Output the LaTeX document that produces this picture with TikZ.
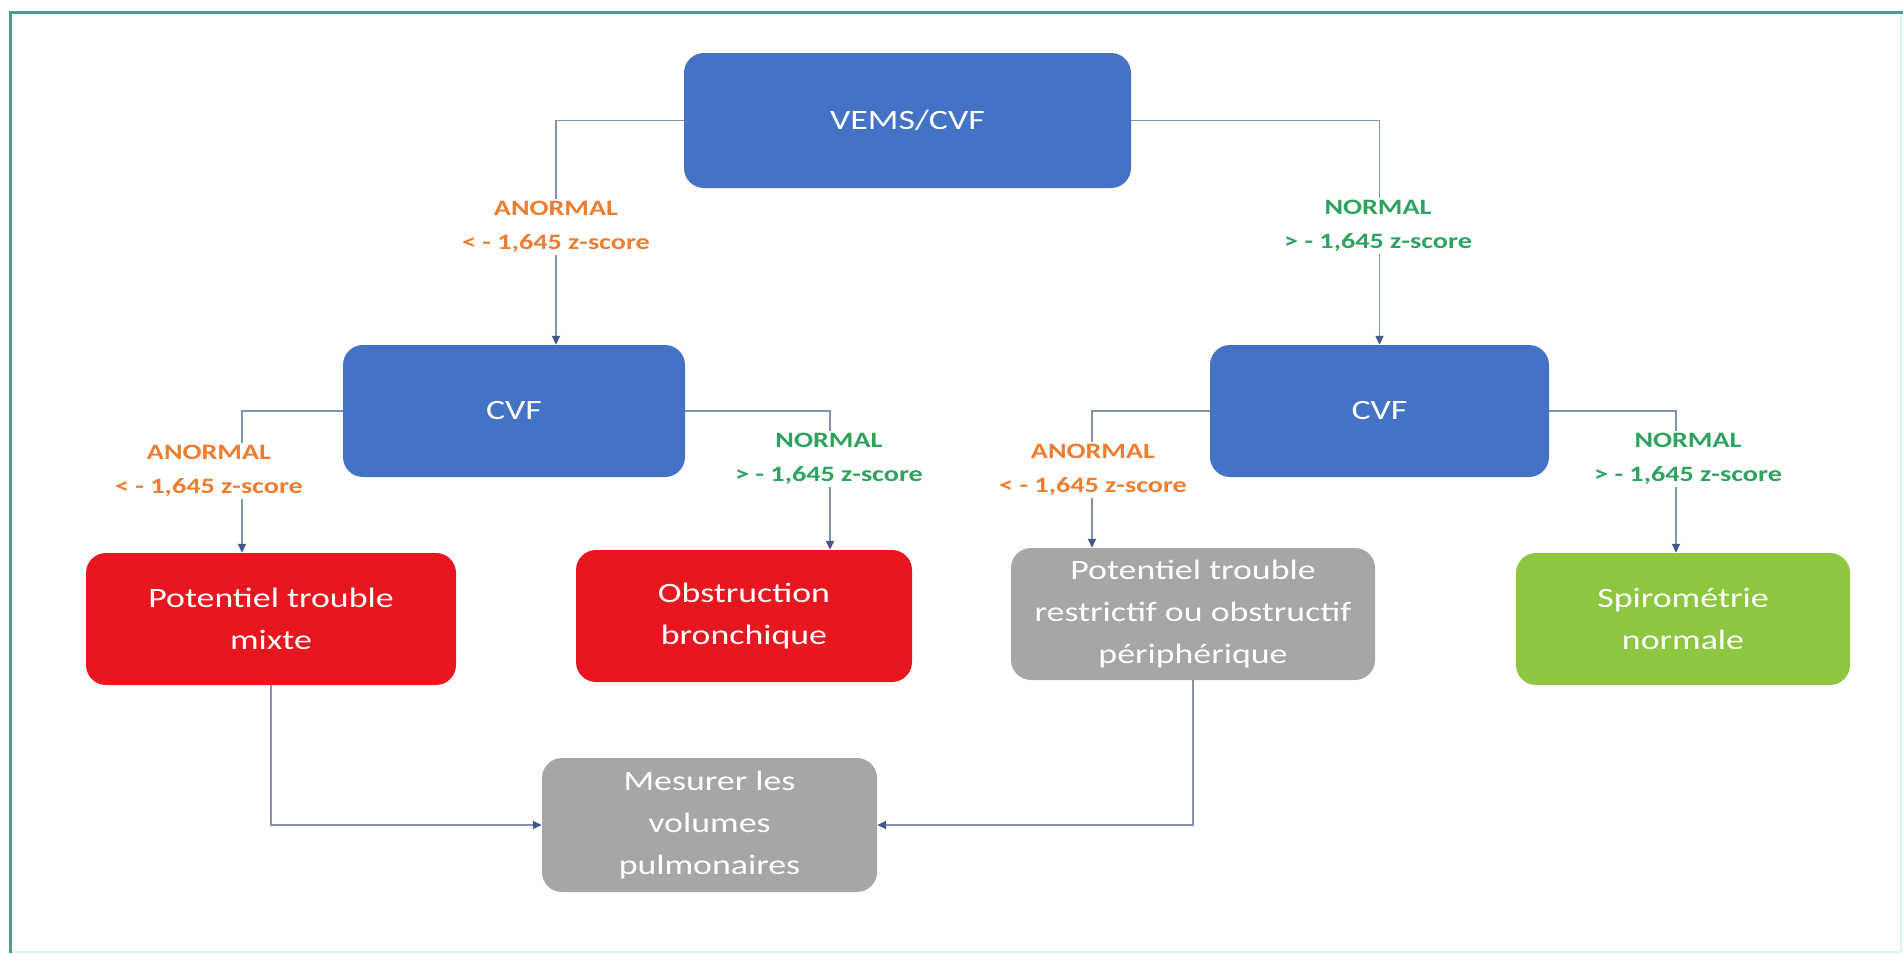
\documentclass[tikz,border=0pt]{standalone}
\usepackage{fontspec}
\setmainfont{Carlito}[FakeStretch=1.28]
\usetikzlibrary{arrows.meta}
\definecolor{bxblue}{HTML}{4472C4}
\definecolor{bxred}{HTML}{E8161E}
\definecolor{bxgray}{HTML}{A6A6A6}
\definecolor{bxgreen}{HTML}{8DC63F}
\definecolor{lblorange}{HTML}{ED7D31}
\definecolor{lblgreen}{HTML}{2EA35E}
\definecolor{connline}{HTML}{8393AD}
\definecolor{arrowcol}{HTML}{3F5A8A}
\definecolor{frameteal}{HTML}{4E9C8A}
\definecolor{framelight}{HTML}{D8F6F2}
\tikzset{
  box/.style={rounded corners=20pt, text=white, align=center, inner sep=0pt,
    font=\fontsize{28}{42}\selectfont},
  lbl/.style={fill=white, align=center, inner sep=2pt,
    font=\bfseries\fontsize{22}{34}\selectfont},
  conn/.style={draw=connline, line width=1.5pt},
  arr/.style={conn, -{Triangle[length=9pt,width=8pt,fill=arrowcol,color=arrowcol]}},
}
\begin{document}
\begin{tikzpicture}[x=1pt,y=-1pt]
\useasboundingbox (0,0) rectangle (1903,953);
% frame
\draw[framelight, line width=2pt] (1901,12) -- (1901,952) -- (10,952);
\draw[frameteal, line width=3pt] (10,953) -- (10,12) -- (1903,12);

% boxes
\node[box, fill=bxblue, minimum width=447pt, minimum height=135pt] (vems) at (907.5,120.5) {VEMS/CVF};
\node[box, fill=bxblue, minimum width=342pt, minimum height=132pt] (cvfL) at (514,411) {CVF};
\node[box, fill=bxblue, minimum width=339pt, minimum height=132pt] (cvfR) at (1379.5,411) {CVF};
\node[box, fill=bxred, minimum width=370pt, minimum height=132pt] (mixte) at (271,619) {Potentiel trouble\\mixte};
\node[box, fill=bxred, minimum width=336pt, minimum height=132pt] (obst) at (744,616) {Obstruction\\bronchique};
\node[box, fill=bxgray, minimum width=364pt, minimum height=132pt] (restr) at (1193,614) {Potentiel trouble\\restrictif ou obstructif\\périphérique};
\node[box, fill=bxgreen, minimum width=334pt, minimum height=132pt] (spiro) at (1683,619) {Spirométrie\\normale};
\node[box, fill=bxgray, minimum width=335pt, minimum height=134pt] (mes) at (709.5,825) {Mesurer les\\volumes\\pulmonaires};

% connectors
\draw[arr] (vems.west) -| ([xshift=42pt]cvfL.north);
\draw[arr] (vems.east) -| (cvfR.north);
\draw[arr] (cvfL.west) -| ([xshift=-29pt]mixte.north);
\draw[arr] (cvfL.east) -| ([xshift=86pt]obst.north);
\draw[arr] (cvfR.west) -| ([xshift=-101pt]restr.north);
\draw[arr] (cvfR.east) -| ([xshift=-7pt]spiro.north);
\draw[arr] (mixte.south) |- (mes.west);
\draw[arr] (restr.south) |- (mes.east);

% labels
\node[lbl, text=lblorange] (l1) at (556,227) {ANORMAL\\< - 1,645 z-score};
\node[lbl, text=lblgreen] (r1) at (1378,226) {NORMAL\\> - 1,645 z-score};
\node[lbl, text=lblorange] (l2a) at (209,471) {ANORMAL\\< - 1,645 z-score};
\node[lbl, text=lblgreen] (l2b) at (829,459) {NORMAL\\> - 1,645 z-score};
\node[lbl, text=lblorange] (r2a) at (1093,470) {ANORMAL\\< - 1,645 z-score};
\node[lbl, text=lblgreen] (r2b) at (1688,459) {NORMAL\\> - 1,645 z-score};
\end{tikzpicture}
\end{document}
